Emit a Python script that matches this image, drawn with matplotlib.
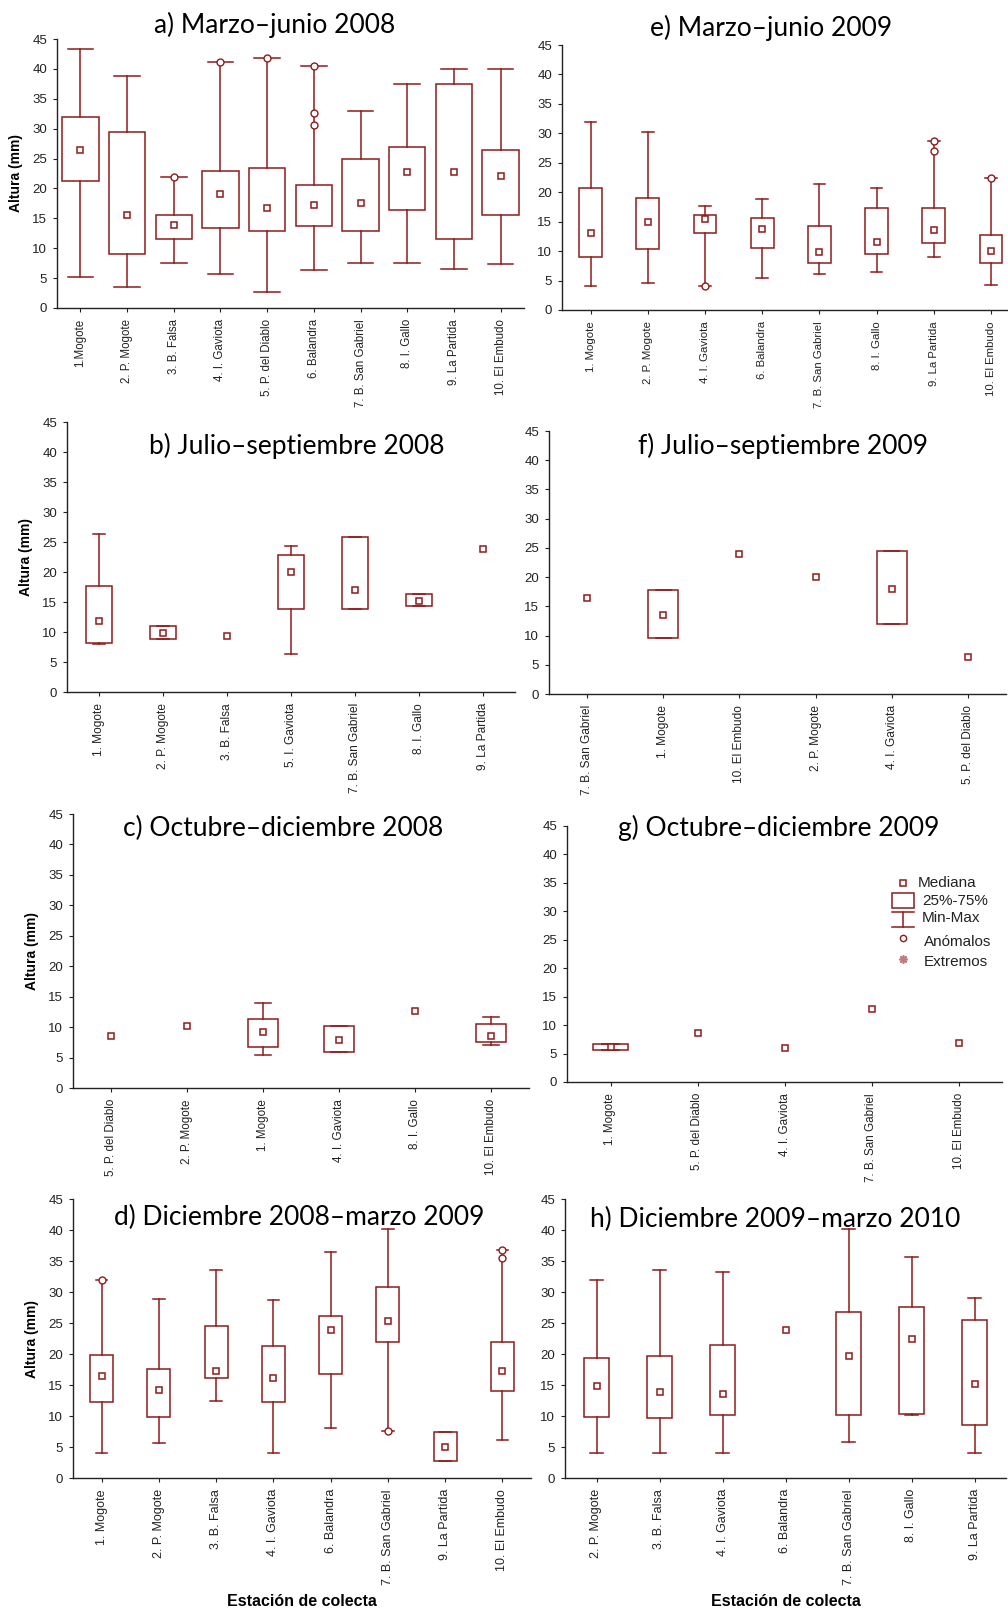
import numpy as np
import matplotlib
matplotlib.use("Agg")
import matplotlib.pyplot as plt
import matplotlib.transforms as mtransforms
from matplotlib.patches import Rectangle

W, H = 1008, 1610
RED = "#8e1b1b"
nan = np.nan

# a) Marzo-junio 2008
A_LABELS = ["1.Mogote", "2. P. Mogote", "3. B. Falsa", "4. I. Gaviota",
            "5. P. del Diablo", "6. Balandra", "7. B. San Gabriel",
            "8. I. Gallo", "9. La Partida", "10. El Embudo"]
A_MIN = [5.2, 3.5, 7.6, 5.7, 2.7, 6.4, 7.6, 7.6, 6.6, 7.3]
A_Q1 = [21.2, 9.0, 11.6, 13.4, 12.9, 13.8, 12.8, 16.4, 11.6, 15.6]
A_MED = [26.4, 15.6, 13.9, 19.0, 16.8, 17.2, 17.6, 22.8, 22.8, 22.0]
A_Q3 = [32.0, 29.4, 15.6, 23.0, 23.5, 20.5, 24.9, 27.0, 37.4, 26.4]
A_MAX = [43.4, 38.8, 21.9, 41.2, 41.9, 40.5, 32.9, 37.4, 39.9, 40.0]
A_OUT = [[], [], [21.9], [41.2], [41.9], [40.5, 32.7, 30.6], [], [], [], []]

# e) Marzo-junio 2009
E_LABELS = ["1. Mogote", "2. P. Mogote", "4. I. Gaviota", "6. Balandra",
            "7. B. San Gabriel", "8. I. Gallo", "9. La Partida", "10. El Embudo"]
E_MIN = [4.1, 4.6, 4.1, 5.4, 6.1, 6.5, 9.0, 4.2]
E_Q1 = [9.0, 10.4, 13.1, 10.5, 8.0, 9.5, 11.3, 8.0]
E_MED = [13.0, 15.0, 15.4, 13.8, 9.8, 11.6, 13.6, 10.1]
E_Q3 = [20.8, 19.0, 16.2, 15.6, 14.3, 17.3, 17.3, 12.7]
E_MAX = [32.0, 30.2, 17.7, 18.9, 21.4, 20.7, 28.7, 22.4]
E_OUT = [[], [], [4.1], [], [], [], [28.7, 27.0], [22.4]]

# b) Julio-septiembre 2008
B_LABELS = ["1. Mogote", "2. P. Mogote", "3. B. Falsa", "5. I. Gaviota",
            "7. B. San Gabriel", "8. I. Gallo", "9. La Partida"]
B_MIN = [8.0, 8.9, nan, 6.4, 13.8, 14.3, nan]
B_Q1 = [8.1, 8.9, nan, 13.9, 13.8, 14.4, nan]
B_MED = [11.8, 9.9, 9.3, 20.0, 17.0, 15.2, 23.9]
B_Q3 = [17.7, 11.0, nan, 22.8, 25.8, 16.4, nan]
B_MAX = [26.4, 11.0, nan, 24.4, 25.8, 16.4, nan]

# f) Julio-septiembre 2009
F_LABELS = ["7. B. San Gabriel", "1. Mogote", "10. El Embudo", "2. P. Mogote",
            "4. I. Gaviota", "5. P. del Diablo"]
F_MIN = [nan, 9.5, nan, nan, 11.9, nan]
F_Q1 = [nan, 9.5, nan, nan, 11.9, nan]
F_MED = [16.4, 13.6, 24.0, 20.0, 18.0, 6.3]
F_Q3 = [nan, 17.8, nan, nan, 24.4, nan]
F_MAX = [nan, 17.8, nan, nan, 24.4, nan]

# c) Octubre-diciembre 2008
C_LABELS = ["5. P. del Diablo", "2. P. Mogote", "1. Mogote", "4. I. Gaviota",
            "8. I. Gallo", "10. El Embudo"]
C_MIN = [nan, nan, 5.5, 5.9, nan, 7.0]
C_Q1 = [nan, nan, 6.7, 5.9, nan, 7.6]
C_MED = [8.6, 10.2, 9.2, 7.9, 12.6, 8.6]
C_Q3 = [nan, nan, 11.3, 10.2, nan, 10.5]
C_MAX = [nan, nan, 13.9, 10.2, nan, 11.6]

# g) Octubre-diciembre 2009
G_LABELS = ["1. Mogote", "5. P. del Diablo", "4. I. Gaviota",
            "7. B. San Gabriel", "10. El Embudo"]
G_MIN = [5.6, nan, nan, nan, nan]
G_Q1 = [5.6, nan, nan, nan, nan]
G_MED = [6.1, 8.7, 5.9, 12.8, 6.9]
G_Q3 = [6.6, nan, nan, nan, nan]
G_MAX = [6.6, nan, nan, nan, nan]

# d) Diciembre 2008-marzo 2009
D_LABELS = ["1. Mogote", "2. P. Mogote", "3. B. Falsa", "4. I. Gaviota",
            "6. Balandra", "7. B. San Gabriel", "9. La Partida", "10. El Embudo"]
D_MIN = [4.0, 5.7, 12.4, 4.0, 8.0, 7.6, 2.8, 6.2]
D_Q1 = [12.2, 9.9, 16.1, 12.2, 16.8, 21.9, 2.8, 14.0]
D_MED = [16.4, 14.2, 17.2, 16.2, 23.9, 25.3, 5.0, 17.2]
D_Q3 = [19.8, 17.6, 24.5, 21.3, 26.1, 30.8, 7.5, 22.0]
D_MAX = [31.9, 28.8, 33.5, 28.7, 36.4, 40.1, 7.5, 36.7]
D_OUT = [[31.9], [], [], [], [], [7.6], [], [36.7, 35.5]]

# h) Diciembre 2009-marzo 2010
H_LABELS = ["2. P. Mogote", "3. B. Falsa", "4. I. Gaviota", "6. Balandra",
            "7. B. San Gabriel", "8. I. Gallo", "9. La Partida"]
H_MIN = [4.0, 4.0, 4.0, nan, 5.8, 10.2, 4.0]
H_Q1 = [9.9, 9.7, 10.1, nan, 10.2, 10.3, 8.5]
H_MED = [14.8, 13.8, 13.5, 23.9, 19.6, 22.4, 15.2]
H_Q3 = [19.3, 19.6, 21.5, nan, 26.7, 27.6, 25.5]
H_MAX = [32.0, 33.6, 33.3, nan, 40.2, 35.6, 29.0]

TITLES = {
    "a": "a) Marzo–junio 2008", "e": "e) Marzo–junio 2009",
    "b": "b) Julio–septiembre 2008", "f": "f) Julio–septiembre 2009",
    "c": "c) Octubre–diciembre 2008", "g": "g) Octubre–diciembre 2009",
    "d": "d) Diciembre 2008–marzo 2009", "h": "h) Diciembre 2009–marzo 2010",
}

TITLE_FONT = ["Lato", "DejaVu Sans"]
TICK_FONT = ["Liberation Sans", "DejaVu Sans"]

fig = plt.figure(figsize=(W / 100, H / 100), dpi=100)
# pixel coordinates measured from the top-left corner of the figure
PX = mtransforms.Affine2D().scale(1 / W, -1 / H).translate(0, 1) + fig.transFigure


def add_axes_px(left, top, right, bottom):
    return fig.add_axes([left / W, 1 - bottom / H, (right - left) / W,
                         (bottom - top) / H])


def draw_panel(ax, labels, mins, q1, med, q3, maxs, outliers=None,
               box_w=0.4, cap_w=0.2, xmax=None, xfs=8.5):
    n = len(labels)
    x = np.arange(1, n + 1)
    for i in range(n):
        xi = x[i]
        if not np.isnan(q1[i]):
            ax.add_patch(Rectangle((xi - box_w / 2, q1[i]), box_w, q3[i] - q1[i],
                                   fill=False, ec=RED, lw=1.1, zorder=3))
            ax.plot([xi, xi], [q3[i], maxs[i]], color=RED, lw=1.1, zorder=2)
            ax.plot([xi, xi], [mins[i], q1[i]], color=RED, lw=1.1, zorder=2)
            for v in (mins[i], maxs[i]):
                ax.plot([xi - cap_w / 2, xi + cap_w / 2], [v, v], color=RED,
                        lw=1.1, zorder=2)
        if outliers:
            for v in outliers[i]:
                ax.plot(xi, v, "o", ms=5, mfc="white", mec=RED, mew=1.0, zorder=5)
    ax.plot(x, med, "s", ms=5, mfc="white", mec=RED, mew=1.1, zorder=4,
            linestyle="none")

    ax.set_xlim(0.5, xmax if xmax is not None else n + 0.5)
    ax.set_ylim(0, 45)
    ax.set_yticks(range(0, 46, 5))
    ax.set_xticks(x)
    ax.set_xticklabels(labels, rotation=90, fontsize=xfs, family=TICK_FONT)
    for t in ax.get_yticklabels():
        t.set_fontsize(9.5)
        t.set_family(TICK_FONT)
    for side in ("top", "right"):
        ax.spines[side].set_visible(False)
    for side in ("left", "bottom"):
        ax.spines[side].set_linewidth(1.0)
        ax.spines[side].set_color("#222222")
    ax.tick_params(axis="both", direction="out", length=3, width=0.8,
                   color="#222222", labelcolor="#222222")
    ax.tick_params(axis="y", pad=4)
    ax.tick_params(axis="x", pad=5)
    ax.patch.set_alpha(0)


def ylabel(ax):
    ax.set_ylabel("Altura (mm)", fontsize=10, fontweight="bold",
                  family=TICK_FONT, labelpad=7)


def title(key, x, y):
    fig.text(x, y, TITLES[key], transform=PX, ha="center", va="center",
             fontsize=19, family=TITLE_FONT, color="black")


ax_a = add_axes_px(57, 39, 524, 308)
draw_panel(ax_a, A_LABELS, A_MIN, A_Q1, A_MED, A_Q3, A_MAX, A_OUT,
           box_w=0.78, cap_w=0.55, xfs=8.3)
ylabel(ax_a)
title("a", 275, 25)

ax_e = add_axes_px(562, 45, 1007, 310)
draw_panel(ax_e, E_LABELS, E_MIN, E_Q1, E_MED, E_Q3, E_MAX, E_OUT, xmax=8.28,
           xfs=8.2)
title("e", 771, 28)

ax_b = add_axes_px(67, 422, 515, 692)
draw_panel(ax_b, B_LABELS, B_MIN, B_Q1, B_MED, B_Q3, B_MAX, xfs=8.6)
ylabel(ax_b)
title("b", 297, 446)

ax_f = add_axes_px(549, 431, 1006, 694)
draw_panel(ax_f, F_LABELS, F_MIN, F_Q1, F_MED, F_Q3, F_MAX, xfs=8.6)
title("f", 783, 446)

ax_c = add_axes_px(73, 814, 529, 1088)
draw_panel(ax_c, C_LABELS, C_MIN, C_Q1, C_MED, C_Q3, C_MAX, xfs=8.4)
ylabel(ax_c)
title("c", 283, 828)

ax_g = add_axes_px(567, 826, 1002, 1082)
draw_panel(ax_g, G_LABELS, G_MIN, G_Q1, G_MED, G_Q3, G_MAX, box_w=0.41,
           xfs=8.4)
title("g", 779, 828)

ax_d = add_axes_px(73, 1199, 531, 1478)
draw_panel(ax_d, D_LABELS, D_MIN, D_Q1, D_MED, D_Q3, D_MAX, D_OUT, xfs=9)
ylabel(ax_d)
title("d", 299, 1217)

ax_h = add_axes_px(565, 1199, 1006, 1478)
draw_panel(ax_h, H_LABELS, H_MIN, H_Q1, H_MED, H_Q3, H_MAX, xfs=9)
title("h", 775, 1219)

for cx in (302, 786):
    fig.text(cx, 1601, "Estación de colecta", transform=PX, ha="center",
             va="center", fontsize=11.5, fontweight="bold", family=TICK_FONT)

# key for the box symbols, drawn in the g) panel area
lg = dict(transform=PX, color=RED, lw=1.1)
fig.add_artist(plt.Line2D([903], [883], marker="s", ms=5, mfc="white",
                          mec=RED, mew=1.1, transform=PX))
fig.add_artist(Rectangle((892, 893), 22, 15, fill=False, ec=RED, lw=1.1,
                         transform=PX))
fig.add_artist(plt.Line2D([892, 914], [912, 912], **lg))
fig.add_artist(plt.Line2D([903, 903], [912, 927], **lg))
fig.add_artist(plt.Line2D([892, 914], [927, 927], **lg))
fig.add_artist(plt.Line2D([903], [938], marker="o", ms=4.5, mfc="white",
                          mec=RED, mew=1.0, transform=PX))
fig.add_artist(plt.Line2D([903], [959], marker=(8, 2, 0), ms=6,
                          mec="#c47a7a", mew=1.2, transform=PX))
for txt, tx, ty in [("Mediana", 918, 883), ("25%-75%", 922, 901),
                    ("Min-Max", 922, 918), ("Anómalos", 924, 942),
                    ("Extremos", 924, 962)]:
    fig.text(tx, ty, txt, transform=PX, ha="left", va="center", fontsize=11,
             family=TICK_FONT, color="#222222")

fig.savefig("out.png", dpi=100)
